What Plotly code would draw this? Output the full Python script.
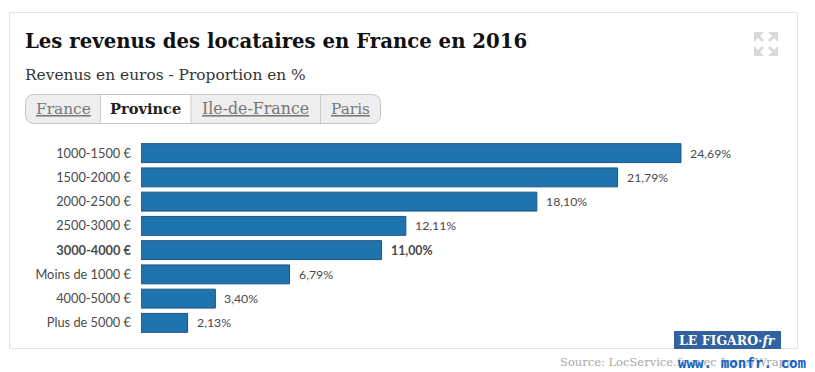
import plotly.graph_objects as go

categories = ["1000-1500 €", "1500-2000 €", "2000-2500 €", "2500-3000 €", "3000-4000 €",
              "Moins de 1000 €", "4000-5000 €", "Plus de 5000 €"]
values = [24.69, 21.79, 18.10, 12.11, 11.00, 6.79, 3.40, 2.13]
value_labels = ["24,69%", "21,79%", "18,10%", "12,11%", "<b>11,00%</b>", "6,79%", "3,40%", "2,13%"]
tick_labels = [("<b>%s</b>" % c) if c == "3000-4000 €" else c for c in categories]
tabs = ["France", "Province", "Ile-de-France", "Paris"]

W, H = 815, 372
L, R, T, B = 141, 797, 141, 335
SERIF = "DejaVu Serif"
SANS = "Lato"


def px(x):
    return (x - L) / (R - L)


def py(y):
    return 1 - (y - T) / (B - T)


def rect(x0, y0, x1, y1, **kw):
    return dict(type="rect", xref="paper", yref="paper", x0=px(x0), x1=px(x1), y0=py(y0), y1=py(y1),
                layer="below", **kw)


def text(x, y, s, size, color, family=SERIF, anchor="left"):
    return dict(xref="paper", yref="paper", x=px(x), y=py(y), text=s, showarrow=False,
                xanchor=anchor, yanchor="middle", font=dict(size=size, color=color, family=family))


def rounded(x0, y0, x1, y1, r):
    a, b, c, d = px(x0), px(x1), py(y0), py(y1)
    rx, ry = r / (R - L), r / (B - T)
    return (f"M{a+rx},{c} L{b-rx},{c} Q{b},{c} {b},{c-ry} L{b},{d+ry} Q{b},{d} {b-rx},{d} "
            f"L{a+rx},{d} Q{a},{d} {a},{d+ry} L{a},{c-ry} Q{a},{c} {a+rx},{c} Z")


fig = go.Figure(go.Bar(
    x=values, y=categories, orientation="h",
    cliponaxis=False, width=0.78,
    marker=dict(color="#1f74b0", line=dict(color="#1a5580", width=1)),
))

shapes = [
    rect(9.5, 12.5, 797.5, 348.5, line=dict(color="#e3e3e3", width=1), fillcolor="white"),
    dict(type="path", xref="paper", yref="paper", path=rounded(25.5, 94.5, 380.5, 123.5, 9),
         fillcolor="#eeeeee", line=dict(color="#c4c4c4", width=1), layer="below"),
    rect(100.5, 95, 191, 123, fillcolor="white", line=dict(width=0)),
]
for sx in (100.5, 191, 320.5):
    shapes.append(dict(type="line", xref="paper", yref="paper", x0=px(sx), x1=px(sx), y0=py(95), y1=py(123),
                       line=dict(color="#cccccc", width=1), layer="below"))
# expand icon
for (cx, cy, dx, dy) in [(754, 32, 1, 1), (778, 32, -1, 1), (754, 56, 1, -1), (778, 56, -1, -1)]:
    p = [(cx, cy), (cx + 10 * dx, cy), (cx + 6 * dx, cy + 4 * dy), (cx + 10 * dx, cy + 8 * dy),
         (cx + 8 * dx, cy + 10 * dy), (cx + 4 * dx, cy + 6 * dy), (cx, cy + 10 * dy)]
    path = "M" + " L".join(f"{px(a)},{py(b)}" for a, b in p) + " Z"
    shapes.append(dict(type="path", xref="paper", yref="paper", path=path, fillcolor="#d9d9d9",
                       line=dict(width=0), layer="below"))
# logo
shapes.append(dict(type="rect", xref="paper", yref="paper", x0=px(674), x1=px(781), y0=py(331), y1=py(349),
                   fillcolor="#31619f", line=dict(width=0), layer="above"))

annotations = [
    text(23, 41, "<b>Les revenus des locataires en France en 2016</b>", 19.7, "#111111"),
    text(23, 75, "Revenus en euros - Proportion en %", 15.4, "#333333"),
    text(34, 109, "<u>France</u>", 15.4, "#777777"),
    text(108, 109, "<b>Province</b>", 14.6, "#222222"),
    text(200, 109, "<u>Ile-de-France</u>", 15.8, "#777777"),
    text(329, 109, "<u>Paris</u>", 15.4, "#777777"),
    text(727.5, 340, "<b>LE FIGARO·<i>fr</i></b>", 12.5, "#ffffff", anchor="center"),
    text(558, 362, "Source: LocService.fr avec Ipsos/Wrapp", 11.5, "#a8a8a8"),
    text(676, 363, "<b>www. monfr. com</b>", 14.2, "#1464c8", family="DejaVu Sans Mono"),
]
for cat, val, lab in zip(categories, values, value_labels):
    annotations.append(dict(xref="x", yref="y", x=val, y=cat, text=lab, showarrow=False,
                            xanchor="left", yanchor="middle", xshift=7,
                            font=dict(family=SANS, size=12.3, color="#4a4a4a")))

fig.update_layout(
    width=W, height=H, margin=dict(l=L, r=W - R, t=T, b=H - B), autosize=False,
    paper_bgcolor="white", plot_bgcolor="rgba(0,0,0,0)", showlegend=False,
    shapes=shapes, annotations=annotations,
    xaxis=dict(range=[0, (R - L) / 21.87], visible=False, fixedrange=True),
    yaxis=dict(autorange="reversed", tickmode="array", tickvals=categories, ticktext=tick_labels,
               ticks="", showline=False, showgrid=False, ticklabelstandoff=9, fixedrange=True,
               tickfont=dict(family=SANS, size=12.8, color="#4a4a4a")),
)
fig.write_html("out.html", config=dict(displayModeBar=False),
               post_script="document.body.style.margin='0';")
